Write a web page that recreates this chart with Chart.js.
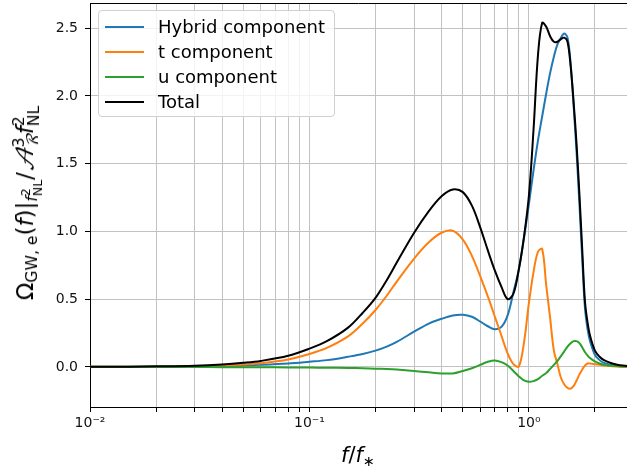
<!DOCTYPE html>
<html>
<head>
<meta charset="utf-8">
<script src="https://cdn.jsdelivr.net/npm/chart.js@4.4.1/dist/chart.umd.min.js"></script>
<style>
  html, body { margin: 0; padding: 0; background: #fff; overflow: hidden; }
  #wrap { position: relative; width: 627px; height: 469px; font-family: "DejaVu Sans", sans-serif; }
  #ylab {
    position: absolute; left: 28px; top: 203px; white-space: nowrap;
    font-size: 23px; line-height: 1; color: #000;
    transform: translate(-50%, -50%) rotate(-90deg);
  }
  #xlab { position: absolute; left: 358px; top: 456px; transform: translate(-50%, -50%); font-size: 21px; white-space: nowrap; }
  #ylab sub, #xlab sub { font-size: 0.68em; vertical-align: -0.25em; }
  .ss { display: inline-flex; flex-direction: column; font-size: 0.68em; line-height: 0.95; vertical-align: 0.55em; }
  sub .ss { font-size: 0.8em; vertical-align: 0.5em; }
  .cal { font-family: "DejaVu Math TeX Gyre", "DejaVu Serif", serif; font-style: italic; }
  #legend {
    position: absolute; left: 98px; top: 10px; width: 237px; height: 107px;
    background: rgba(255,255,255,0.8); border: 1px solid #d0d0d0; border-radius: 4px;
    box-sizing: border-box;
  }
  .row { position: absolute; left: 0; height: 25px; font-size: 18px; line-height: 25px; white-space: nowrap; }
  .row .ln { position: absolute; left: 6px; top: 12px; width: 39px; height: 2px; }
  .row .tx { position: absolute; left: 59px; top: 0; }
</style>
</head>
<body>
<div id="wrap">
  <canvas id="chart" width="627" height="469"></canvas>
  <div id="legend"></div>
  <div id="ylab">Ω<sub>GW, e</sub>(<i>f</i>)|<sub><i>f</i><span class="ss"><span>2</span><span>NL</span></span></sub>/<span class="cal">𝒜</span><span class="ss"><span>3</span><span class="cal">ℛ</span></span><i>f</i><span class="ss"><span>2</span><span>NL</span></span></div>
  <div id="xlab"><i>f</i>/<i>f</i><sub>∗</sub></div>
</div>
<script>
const freq = [0.01, 0.015, 0.02, 0.03, 0.04, 0.05, 0.06, 0.08,
  0.1, 0.12, 0.15, 0.175,
  0.2, 0.225, 0.25, 0.3, 0.35, 0.4, 0.45, 0.5,
  0.55, 0.6, 0.65, 0.7, 0.75, 0.8, 0.85, 0.9, 0.95,
  1.0, 1.05, 1.1, 1.15, 1.2, 1.25, 1.3, 1.35, 1.4, 1.45, 1.5,
  1.55, 1.6, 1.65, 1.7, 1.75, 1.8, 1.85, 1.9,
  2.0, 2.1, 2.2, 2.4, 2.6, 3.0];

const hybrid = [0.0005, 0.001, 0.002, 0.004, 0.007, 0.011, 0.015, 0.025,
  0.038, 0.05, 0.075, 0.095,
  0.12, 0.15, 0.185, 0.26, 0.32, 0.355, 0.38, 0.385,
  0.37, 0.335, 0.30, 0.278, 0.295, 0.38, 0.55, 0.72, 0.95,
  1.20, 1.45, 1.67, 1.85, 2.02, 2.17, 2.29, 2.38, 2.43, 2.46, 2.43,
  2.24, 1.92, 1.58, 1.20, 0.80, 0.44, 0.28, 0.19,
  0.09, 0.05, 0.03, 0.012, 0.005, 0.001];

const tComp = [0.0005, 0.001, 0.002, 0.005, 0.01, 0.018, 0.027, 0.055,
  0.095, 0.14, 0.225, 0.32,
  0.42, 0.525, 0.63, 0.80, 0.92, 0.99, 1.005, 0.94,
  0.82, 0.67, 0.52, 0.37, 0.23, 0.10, 0.02, 0.003, 0.18,
  0.47, 0.70, 0.85, 0.87, 0.60, 0.36, 0.12, 0.02, -0.08, -0.13, -0.155,
  -0.16, -0.14, -0.10, -0.055, -0.02, 0.01, 0.025, 0.025,
  0.02, 0.015, 0.01, 0.005, 0.002, 0.0];

const uComp = [0, 0, -0.001, -0.001, -0.002, -0.002, -0.003, -0.004,
  -0.005, -0.006, -0.008, -0.01,
  -0.013, -0.016, -0.02, -0.03, -0.04, -0.048, -0.048, -0.03,
  -0.01, 0.015, 0.038, 0.048, 0.035, 0.01, -0.03, -0.07, -0.10,
  -0.11, -0.105, -0.09, -0.065, -0.045, -0.015, 0.015, 0.045, 0.08, 0.115, 0.15,
  0.175, 0.19, 0.19, 0.175, 0.145, 0.11, 0.085, 0.065,
  0.04, 0.025, 0.015, 0.008, 0.004, 0.001];

const total = [0.001, 0.002, 0.004, 0.009, 0.018, 0.03, 0.044, 0.082,
  0.135, 0.19, 0.29, 0.40,
  0.51, 0.64, 0.77, 0.99, 1.15, 1.26, 1.31, 1.29,
  1.19, 1.03, 0.86, 0.71, 0.59, 0.50, 0.54, 0.72, 0.96,
  1.26, 1.75, 2.30, 2.54, 2.51, 2.44, 2.40, 2.40, 2.42, 2.43, 2.40,
  2.22, 1.95, 1.64, 1.27, 0.87, 0.49, 0.33, 0.23,
  0.12, 0.075, 0.05, 0.025, 0.012, 0.004];

const seriesNames = ["Hybrid component", "t component", "u component", "Total"];
const seriesColors = ["#1f77b4", "#ff7f0e", "#2ca02c", "#000000"];
const xTicks = [0.01, 0.02, 0.03, 0.04, 0.05, 0.06, 0.07, 0.08, 0.09,
  0.1, 0.2, 0.3, 0.4, 0.5, 0.6, 0.7, 0.8, 0.9, 1, 2];
const yTicks = [0, 0.5, 1.0, 1.5, 2.0, 2.5];

const series = [hybrid, tComp, uComp, total];
const sup = { "-": "⁻", "0": "⁰", "1": "¹", "2": "²" };

const datasets = series.map((vals, i) => ({
  label: seriesNames[i],
  data: freq.map((f, j) => ({ x: f, y: vals[j] })),
  borderColor: seriesColors[i],
  borderWidth: 2,
  pointRadius: 0,
  fill: false,
  tension: 0.35,
  order: series.length - i
}));

// top spine (right one is cropped in the picture)
const frame = {
  id: "frame",
  afterDraw(chart) {
    const { ctx, chartArea: a } = chart;
    ctx.save();
    ctx.strokeStyle = "#000";
    ctx.lineWidth = 1;
    ctx.beginPath();
    ctx.moveTo(a.left, a.top + 0.5);
    ctx.lineTo(a.right, a.top + 0.5);
    ctx.stroke();
    ctx.restore();
  }
};

const gridColor = "#c2c2c2";
const tickFont = { family: "DejaVu Sans", size: 14 };

new Chart(document.getElementById("chart"), {
  type: "line",
  data: { datasets },
  plugins: [frame],
  options: {
    responsive: false,
    animation: false,
    layout: { padding: { top: 3, right: 0, left: 0, bottom: 0 } },
    plugins: { legend: { display: false }, tooltip: { enabled: false } },
    scales: {
      x: {
        type: "logarithmic",
        min: 0.01,
        max: 2.8,
        afterBuildTicks: s => { s.ticks = xTicks.map(v => ({ value: v })); },
        afterFit: s => { s.height = 62; s.paddingLeft = 0; s.paddingRight = 0; },
        grid: { color: gridColor, tickColor: "#000", tickLength: 5 },
        border: { color: "#000", width: 1 },
        ticks: {
          autoSkip: false, maxRotation: 0, padding: 3,
          color: "#111", font: tickFont,
          callback: v => {
            const e = Math.log10(v);
            if (Math.abs(e - Math.round(e)) > 1e-6) return "";
            return "10" + String(Math.round(e)).split("").map(c => sup[c]).join("");
          }
        }
      },
      y: {
        min: -0.296,
        max: 2.686,
        afterBuildTicks: s => { s.ticks = yTicks.map(v => ({ value: v })); },
        afterFit: s => { s.width = 90; s.paddingTop = 0; s.paddingBottom = 0; },
        grid: { color: gridColor, tickColor: "#000", tickLength: 5 },
        border: { color: "#000", width: 1 },
        ticks: { padding: 7, color: "#111", font: tickFont, callback: v => v.toFixed(1) }
      }
    }
  }
});

// legend box like the original, built from the series
const legend = document.getElementById("legend");
seriesNames.forEach((name, i) => {
  const row = document.createElement("div");
  row.className = "row";
  row.style.top = (3 + i * 25) + "px";
  row.innerHTML = '<span class="ln" style="background:' + seriesColors[i] + '"></span><span class="tx">' + name + "</span>";
  legend.appendChild(row);
});
</script>
</body>
</html>
